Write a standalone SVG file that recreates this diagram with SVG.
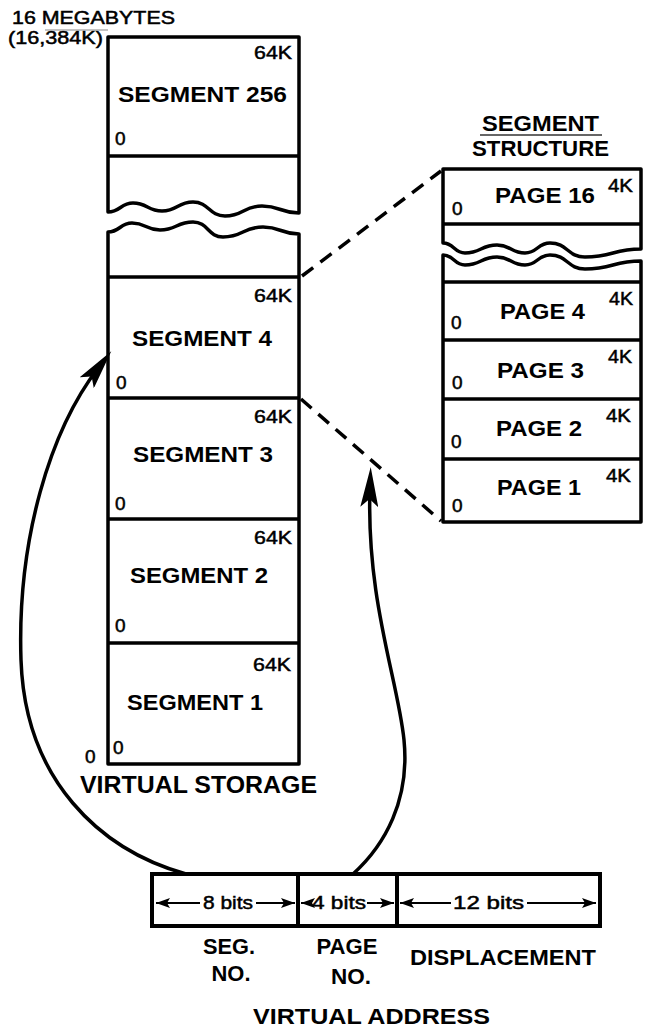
<svg xmlns="http://www.w3.org/2000/svg" width="645" height="1027" viewBox="0 0 645 1027">
<style>
.box{fill:#fff;stroke:#000;stroke-width:3.5;stroke-linejoin:round}
.ln{stroke:#000;stroke-width:3.5;fill:none}
.dash{stroke:#000;stroke-width:3.5;fill:none;stroke-dasharray:14 9}
.curve{stroke:#000;stroke-width:3.5;fill:none}
.bitln{stroke:#000;stroke-width:2;fill:none}
text{font-family:"Liberation Sans",Arial,Helvetica,sans-serif;fill:#000}
.b{font-weight:bold;font-size:22px}
.s{font-size:19px;stroke:#000;stroke-width:0.5}
.t{font-size:18px;stroke:#000;stroke-width:0.5}
.m{text-anchor:middle}
</style>
<defs>
<marker id="bigArrow" viewBox="0 0 40 18" refX="20" refY="9" markerWidth="40" markerHeight="18" markerUnits="userSpaceOnUse" orient="auto">
<path d="M0,0 L40,9 L0,18 L8,9 Z" fill="#000"/>
</marker>
<marker id="smallArrow" viewBox="0 0 14 10" refX="14" refY="5" markerWidth="14" markerHeight="10" markerUnits="userSpaceOnUse" orient="auto">
<path d="M0,0 L14,5 L0,10 L3,5 Z" fill="#000"/>
</marker>
</defs>

<g id="title-left">
<text class="t" x="12" y="24" textLength="163" lengthAdjust="spacingAndGlyphs">16 MEGABYTES</text>
<text class="t" x="8" y="44" textLength="95" lengthAdjust="spacingAndGlyphs">(16,384K)</text>
<line x1="45" y1="30" x2="108" y2="30" stroke="#888" stroke-width="1.2"/>
</g>

<g id="virtual-storage-top">
<path class="box" d="M299,213 L299,37 L108,37 L108,212 C120.5,212 120.5,203 133,203 C147.5,203 147.5,211 162,211 C177.5,211 177.5,202 193,202 C209,202 209,216 225,216 C243.5,216 243.5,206 262,206 C280.5,206 280.5,213 299,213 Z"/>
<line class="ln" x1="108" y1="156" x2="299" y2="156"/>
</g>

<g id="virtual-storage-bottom">
<path class="box" d="M108,232 C120,232 120,223 132,223 C146,223 146,230 160,230 C176.5,230 176.5,222 193,222 C208,222 208,237 223,237 C243,237 243,227 263,227 C281,227 281,234 299,234 L299,764 L108,764 Z"/>
<line class="ln" x1="108" y1="277" x2="299" y2="277"/>
<line class="ln" x1="108" y1="398" x2="299" y2="398"/>
<line class="ln" x1="108" y1="519" x2="299" y2="519"/>
<line class="ln" x1="108" y1="643" x2="299" y2="643"/>
</g>

<g id="segment-256">
<text class="s" x="254" y="59" textLength="38" lengthAdjust="spacingAndGlyphs">64K</text>
<text class="b" x="118" y="102" textLength="169" lengthAdjust="spacingAndGlyphs">SEGMENT 256</text>
<text class="s" x="115" y="145">0</text>
</g>
<g id="segment-4">
<text class="s" x="254" y="302" textLength="38" lengthAdjust="spacingAndGlyphs">64K</text>
<text class="b" x="132" y="346" textLength="140" lengthAdjust="spacingAndGlyphs">SEGMENT 4</text>
<text class="s" x="116" y="389">0</text>
</g>
<g id="segment-3">
<text class="s" x="254" y="423" textLength="38" lengthAdjust="spacingAndGlyphs">64K</text>
<text class="b" x="133" y="462" textLength="140" lengthAdjust="spacingAndGlyphs">SEGMENT 3</text>
<text class="s" x="115" y="510">0</text>
</g>
<g id="segment-2">
<text class="s" x="254" y="544" textLength="38" lengthAdjust="spacingAndGlyphs">64K</text>
<text class="b" x="130" y="583" textLength="138" lengthAdjust="spacingAndGlyphs">SEGMENT 2</text>
<text class="s" x="115" y="632">0</text>
</g>
<g id="segment-1">
<text class="s" x="253" y="671" textLength="38" lengthAdjust="spacingAndGlyphs">64K</text>
<text class="b" x="127" y="710" textLength="136" lengthAdjust="spacingAndGlyphs">SEGMENT 1</text>
<text class="s" x="113" y="754">0</text>
</g>
<g id="storage-label">
<text class="s" x="85" y="763">0</text>
<text class="b" x="80" y="793" textLength="237" lengthAdjust="spacingAndGlyphs" style="font-size:24px">VIRTUAL STORAGE</text>
</g>

<g id="segment-structure-title">
<text class="b" x="482" y="131" textLength="117" lengthAdjust="spacingAndGlyphs">SEGMENT</text>
<line x1="480" y1="135" x2="602" y2="135" stroke="#333" stroke-width="1.5"/>
<text class="b" x="472" y="156" textLength="137" lengthAdjust="spacingAndGlyphs">STRUCTURE</text>
</g>

<g id="segment-structure-top">
<path class="box" d="M641,249 L641,169 L443,169 L443,243 C454,243 454,253 465,253 C481,253 481,245 497,245 C511,245 511,253 525,253 C537.5,253 537.5,243 550,243 C567.5,243 567.5,257 585,257 C613,257 613,249 641,249 Z"/>
<line class="ln" x1="443" y1="224" x2="641" y2="224"/>
</g>
<g id="segment-structure-bottom">
<path class="box" d="M443,255 C454,255 454,265 465,265 C481,265 481,257 497,257 C511,257 511,265 525,265 C537.5,265 537.5,255 550,255 C567.5,255 567.5,269 585,269 C613,269 613,261 641,261 L641,522 L443,522 Z"/>
<line class="ln" x1="443" y1="282" x2="641" y2="282"/>
<line class="ln" x1="443" y1="340" x2="641" y2="340"/>
<line class="ln" x1="443" y1="399" x2="641" y2="399"/>
<line class="ln" x1="443" y1="459" x2="641" y2="459"/>
</g>

<g id="page-16">
<text class="s" x="608" y="192" textLength="25" lengthAdjust="spacingAndGlyphs">4K</text>
<text class="b" x="495" y="203" textLength="100" lengthAdjust="spacingAndGlyphs">PAGE 16</text>
<text class="s" x="452" y="215">0</text>
</g>
<g id="page-4">
<text class="s" x="609" y="305" textLength="24" lengthAdjust="spacingAndGlyphs">4K</text>
<text class="b" x="500" y="319" textLength="85" lengthAdjust="spacingAndGlyphs">PAGE 4</text>
<text class="s" x="451" y="329">0</text>
</g>
<g id="page-3">
<text class="s" x="608" y="363" textLength="24" lengthAdjust="spacingAndGlyphs">4K</text>
<text class="b" x="497" y="378" textLength="87" lengthAdjust="spacingAndGlyphs">PAGE 3</text>
<text class="s" x="452" y="389">0</text>
</g>
<g id="page-2">
<text class="s" x="606" y="422" textLength="25" lengthAdjust="spacingAndGlyphs">4K</text>
<text class="b" x="496" y="436" textLength="86" lengthAdjust="spacingAndGlyphs">PAGE 2</text>
<text class="s" x="451" y="448">0</text>
</g>
<g id="page-1">
<text class="s" x="606" y="482" textLength="25" lengthAdjust="spacingAndGlyphs">4K</text>
<text class="b" x="497" y="495" textLength="84" lengthAdjust="spacingAndGlyphs">PAGE 1</text>
<text class="s" x="452" y="512">0</text>
</g>

<g id="virtual-address">
<rect x="152" y="874" width="448" height="52" fill="#fff" stroke="#000" stroke-width="4"/>
<line x1="298" y1="874" x2="298" y2="926" stroke="#000" stroke-width="4"/>
<line x1="397" y1="874" x2="397" y2="926" stroke="#000" stroke-width="4"/>
<text class="s" x="203" y="909" textLength="50" lengthAdjust="spacingAndGlyphs">8 bits</text>
<text class="s" x="312" y="909" textLength="54" lengthAdjust="spacingAndGlyphs">4 bits</text>
<text class="s" x="453" y="909" textLength="71" lengthAdjust="spacingAndGlyphs">12 bits</text>
<line class="bitln" x1="200" y1="903" x2="156" y2="903" marker-end="url(#smallArrow)"/>
<line class="bitln" x1="256" y1="903" x2="295" y2="903" marker-end="url(#smallArrow)"/>
<line class="bitln" x1="311" y1="903" x2="301" y2="903" marker-end="url(#smallArrow)"/>
<line class="bitln" x1="367" y1="903" x2="394" y2="903" marker-end="url(#smallArrow)"/>
<line class="bitln" x1="451" y1="903" x2="400" y2="903" marker-end="url(#smallArrow)"/>
<line class="bitln" x1="527" y1="903" x2="596" y2="903" marker-end="url(#smallArrow)"/>
<text class="b m" x="229" y="954" textLength="52" lengthAdjust="spacingAndGlyphs">SEG.</text>
<text class="b m" x="231" y="981" textLength="39" lengthAdjust="spacingAndGlyphs">NO.</text>
<text class="b m" x="347" y="954" textLength="61" lengthAdjust="spacingAndGlyphs">PAGE</text>
<text class="b m" x="351" y="984" textLength="40" lengthAdjust="spacingAndGlyphs">NO.</text>
<text class="b" x="410" y="965" textLength="186" lengthAdjust="spacingAndGlyphs">DISPLACEMENT</text>
<text class="b" x="253" y="1024" textLength="237" lengthAdjust="spacingAndGlyphs">VIRTUAL ADDRESS</text>
</g>

<g id="connectors">
<line class="dash" x1="302" y1="276" x2="441" y2="171"/>
<line class="dash" x1="301" y1="399" x2="441" y2="521"/>
<path class="curve" d="M186,874 C100,850 25,780 21,660 C17,540 50,430 99,367" marker-end="url(#bigArrow)"/>
<path class="curve" d="M353,874 C385,845 410,800 404,740 C398,680 366,600 370,487" marker-end="url(#bigArrow)"/>
</g>
</svg>
